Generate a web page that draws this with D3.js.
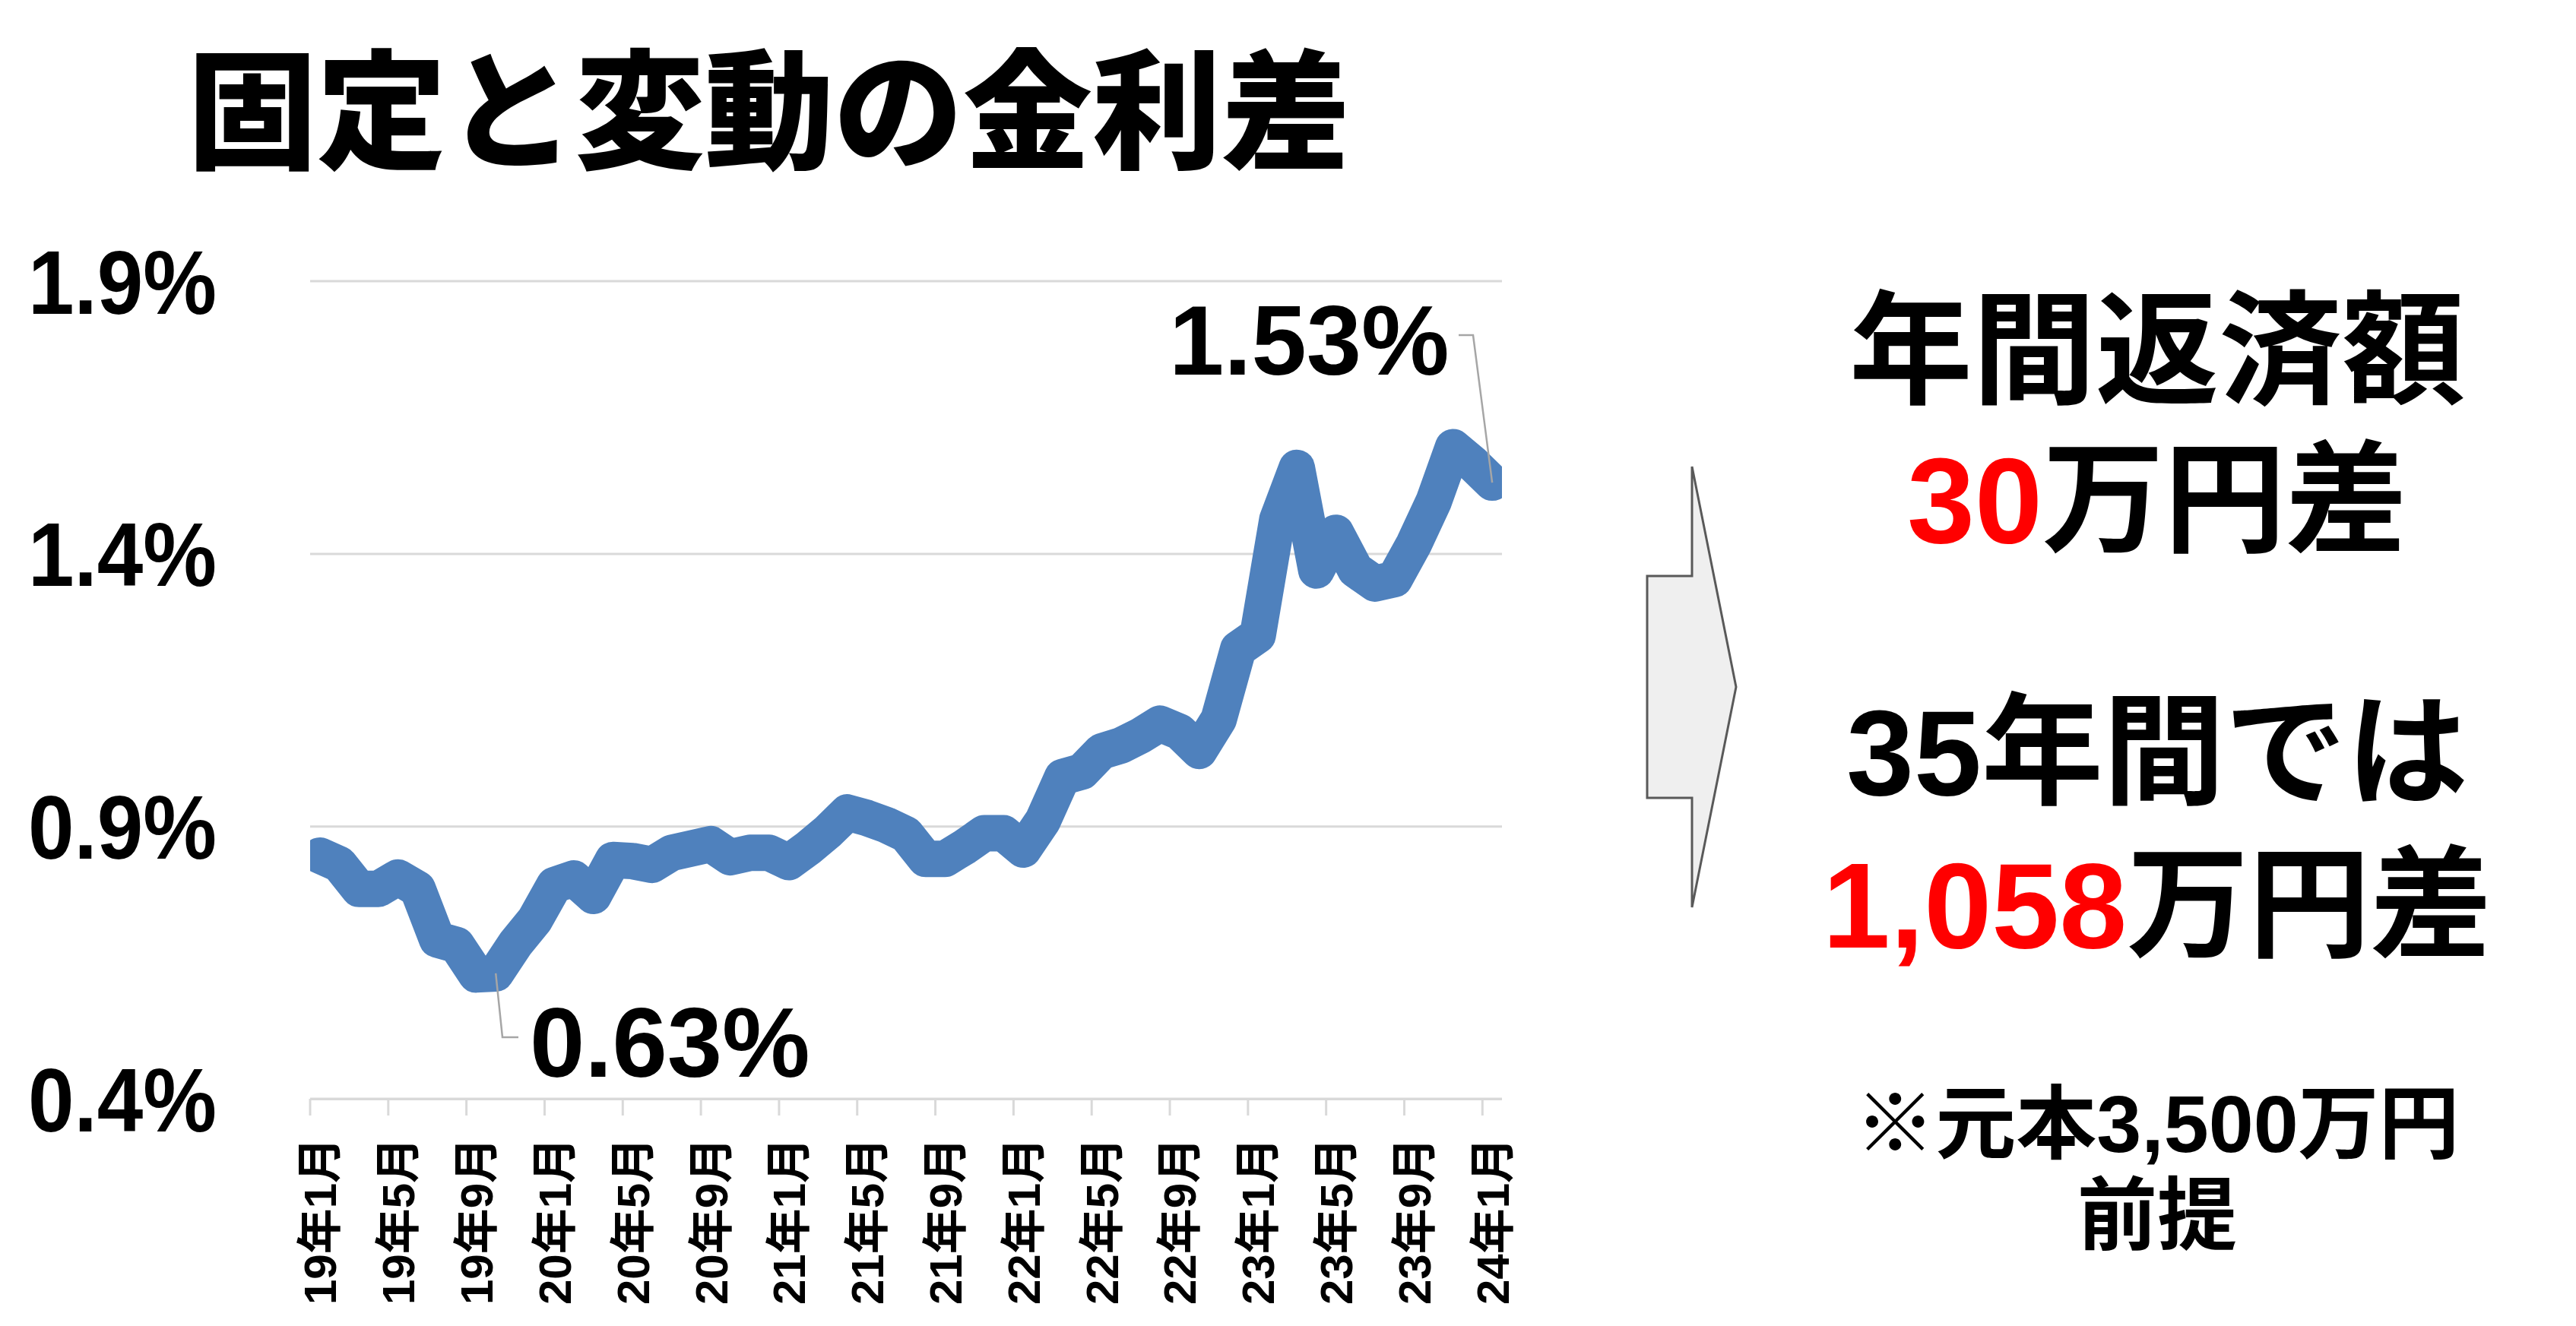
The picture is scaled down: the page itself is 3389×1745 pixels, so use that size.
<!DOCTYPE html>
<html>
<head>
<meta charset="utf-8">
<script src="https://cdn.jsdelivr.net/npm/d3@7"></script>
<style>
  html, body { margin: 0; padding: 0; background: #ffffff; }
  svg { display: block; }
</style>
</head>
<body>
<svg id="chart" width="3389" height="1745"></svg>
<script>
// ---------------- data ----------------
const title = "固定と変動の金利差";
const months = [
  "19年1月","19年2月","19年3月","19年4月","19年5月","19年6月","19年7月","19年8月","19年9月","19年10月","19年11月","19年12月",
  "20年1月","20年2月","20年3月","20年4月","20年5月","20年6月","20年7月","20年8月","20年9月","20年10月","20年11月","20年12月",
  "21年1月","21年2月","21年3月","21年4月","21年5月","21年6月","21年7月","21年8月","21年9月","21年10月","21年11月","21年12月",
  "22年1月","22年2月","22年3月","22年4月","22年5月","22年6月","22年7月","22年8月","22年9月","22年10月","22年11月","22年12月",
  "23年1月","23年2月","23年3月","23年4月","23年5月","23年6月","23年7月","23年8月","23年9月","23年10月","23年11月","23年12月",
  "24年1月"
];
// spread between fixed and variable rate (%)
const spread = [
  0.846, 0.830, 0.785, 0.785, 0.806, 0.785, 0.692, 0.682, 0.628, 0.630, 0.684, 0.728,
  0.792, 0.804, 0.772, 0.838, 0.836, 0.829, 0.851, 0.859, 0.867, 0.843, 0.851, 0.851,
  0.834, 0.860, 0.890, 0.925, 0.915, 0.902, 0.885, 0.840, 0.840, 0.862, 0.887, 0.887,
  0.857, 0.910, 0.990, 1.000, 1.037, 1.048, 1.066, 1.088, 1.073, 1.038, 1.096, 1.225,
  1.250, 1.462, 1.557, 1.369, 1.438, 1.370, 1.345, 1.353, 1.418, 1.495, 1.595, 1.565,
  1.530
];
const xTickLabels = ["19年1月","19年5月","19年9月","20年1月","20年5月","20年9月","21年1月","21年5月","21年9月","22年1月","22年5月","22年9月","23年1月","23年5月","23年9月","24年1月"];
const yTicks = [0.4, 0.9, 1.4, 1.9];
const labelledIdx = [9, 60];   // 0.63% and 1.53%
const rightLines = [
  [{t:"年間返済額", red:false}],
  [{t:"30", red:true}, {t:"万円差", red:false}],
  [{t:"35年間では", red:false}],
  [{t:"1,058", red:true}, {t:"万円差", red:false}],
  [{t:"※元本3,500万円", red:false}],
  [{t:"前提", red:false}]
];

// ---------------- layout ----------------
const svg = d3.select("#chart");
const L = 408, R = 1976, T = 369.6, B = 1446;
const FONT = "'Liberation Sans', 'Noto Sans CJK JP', sans-serif";
const CJK = "'Noto Sans CJK JP', sans-serif";

const x = d3.scaleBand().domain(months).range([L, R]).paddingInner(0).paddingOuter(0);
const bw = x.bandwidth();
const cx = m => x(m) + bw / 2;
const y = d3.scaleLinear().domain([0.4, 1.9]).range([B, T]);

// title
svg.append("text")
  .attr("x", 247).attr("y", 209)
  .attr("font-family", CJK).attr("font-weight", 900)
  .attr("font-size", 170).attr("fill", "#000")
  .text(title);

// y axis with gridlines
const yAxis = svg.append("g").attr("transform", `translate(${L},0)`)
  .call(d3.axisLeft(y).tickValues(yTicks).tickSize(-(R - L)).tickFormat(d => d.toFixed(1) + "%"));
yAxis.select(".domain").remove();
yAxis.selectAll(".tick line").attr("stroke", "#d9d9d9").attr("stroke-width", 3);
yAxis.selectAll(".tick text")
  .attr("x", 285 - L).attr("dy", "0.36em")
  .attr("text-anchor", "end")
  .attr("font-family", FONT).attr("font-weight", 700).attr("font-size", 118)
  .attr("fill", "#000")
  .attr("textLength", 248).attr("lengthAdjust", "spacingAndGlyphs");

// x axis: labels at category centers, ticks at category boundaries
const xAxis = svg.append("g").attr("transform", `translate(0,${B})`)
  .call(d3.axisBottom(x).tickValues(xTickLabels).tickSize(0));
xAxis.select(".domain").attr("stroke", "#d9d9d9").attr("stroke-width", 3)
  .attr("d", `M${L},0H${R}`);
xAxis.selectAll(".tick text")
  .attr("transform", "rotate(-90)")
  .attr("x", -(1497 - B)).attr("y", 0).attr("dy", "0.36em")
  .attr("text-anchor", "end")
  .attr("font-family", FONT).attr("font-weight", 700).attr("font-size", 60)
  .attr("fill", "#000");
svg.append("g").selectAll("line").data(xTickLabels).join("line")
  .attr("x1", d => x(d)).attr("x2", d => x(d))
  .attr("y1", B).attr("y2", B + 22)
  .attr("stroke", "#d9d9d9").attr("stroke-width", 3);

// line series (clipped to plot area)
svg.append("clipPath").attr("id", "plotclip")
  .append("rect").attr("x", L).attr("y", 0).attr("width", R - L).attr("height", 1745);
const pts = months.map((m, i) => ({m, v: spread[i]}));
svg.append("path")
  .datum(pts)
  .attr("clip-path", "url(#plotclip)")
  .attr("fill", "none")
  .attr("stroke", "#4f81bd")
  .attr("stroke-width", 48)
  .attr("stroke-linejoin", "round")
  .attr("stroke-linecap", "round")
  .attr("d", d3.line().x(d => cx(d.m)).y(d => y(d.v)));

// data labels with leader lines
const lowI = labelledIdx[0], highI = labelledIdx[1];
const lowP = [cx(months[lowI]), y(spread[lowI])];
const highP = [cx(months[highI]), y(spread[highI])];
svg.append("path")
  .attr("d", `M${lowP[0]},${lowP[1]}L661,1365L682,1365`)
  .attr("fill", "none").attr("stroke", "#a6a6a6").attr("stroke-width", 2.5);
svg.append("path")
  .attr("d", `M1919,441L1938,441L${highP[0]},${highP[1]}`)
  .attr("fill", "none").attr("stroke", "#a6a6a6").attr("stroke-width", 2.5);
svg.append("text")
  .attr("x", 697).attr("y", 1417)
  .attr("font-family", FONT).attr("font-weight", 700).attr("font-size", 130).attr("fill", "#000")
  .text(spread[lowI].toFixed(2) + "%");
svg.append("text")
  .attr("x", 1538).attr("y", 493)
  .attr("font-family", FONT).attr("font-weight", 700).attr("font-size", 130).attr("fill", "#000")
  .text(spread[highI].toFixed(2) + "%");

// arrow
svg.append("polygon")
  .attr("points", [[2226,614],[2284,904],[2226,1194],[2226,1050],[2167,1050],[2167,758],[2226,758]].map(p => p.join(",")).join(" "))
  .attr("fill", "#efefef").attr("stroke", "#595959").attr("stroke-width", 3).attr("stroke-linejoin", "miter");

// right-hand text block
const lineCenters = [461, 656, 988, 1189, 1478, 1598];
const lineSizes = [162, 160, 160, 160, 106, 105];
rightLines.forEach((parts, k) => {
  const fs = lineSizes[k];
  const t = svg.append("text")
    .attr("x", 2838).attr("y", lineCenters[k] + 0.36 * fs)
    .attr("text-anchor", "middle")
    .attr("font-family", FONT).attr("font-weight", 700).attr("font-size", fs);
  parts.forEach(p => t.append("tspan").attr("fill", p.red ? "#ff0000" : "#000000").text(p.t));
});
</script>
</body>
</html>
